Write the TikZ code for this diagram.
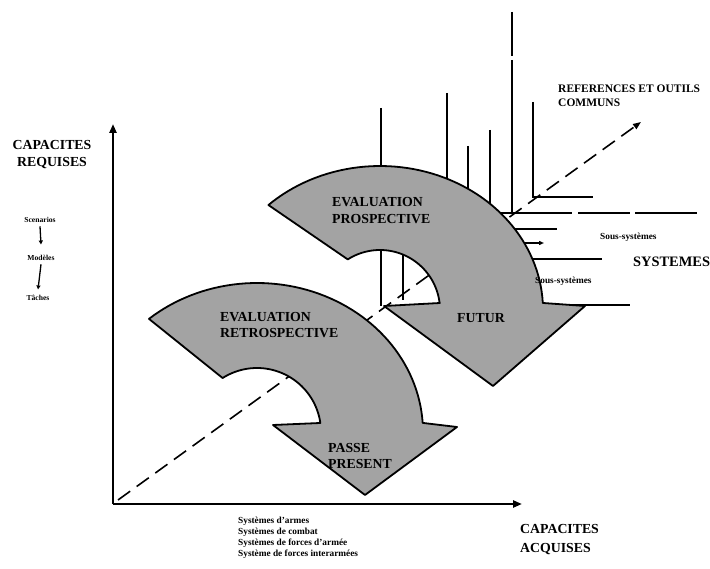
\documentclass[tikz,border=0pt]{standalone}
\usepackage{fontspec}
\setmainfont{Liberation Serif}
\usetikzlibrary{arrows.meta}
\begin{document}
\begin{tikzpicture}[x=1pt,y=-1pt,
  axisline/.style={line width=2.4pt},
  barline/.style={line width=2.3pt},
  sysline/.style={line width=2pt},
  diagline/.style={line width=1.6pt, dash pattern=on 15pt off 8pt},
  band/.style={draw=black, line width=1.8pt, fill=black!36, line join=round},
  biglabel/.style={font=\bfseries\fontsize{13.8}{16}\selectfont, inner sep=0pt, anchor=base west},
  midlabel/.style={font=\bfseries\fontsize{11.5}{14}\selectfont, inner sep=0pt, anchor=base west},
  smalllabel/.style={font=\bfseries\fontsize{9.3}{11}\selectfont, inner sep=0pt, anchor=base west},
  tinylabel/.style={font=\bfseries\fontsize{7.6}{9}\selectfont, inner sep=0pt, anchor=base},
  steparrow/.style={line width=1.3pt, -{Triangle[length=4pt,width=4pt]}},
]
\useasboundingbox (0,0) rectangle (710,569);

% ---- background: reference bars, system lines and the dashed diagonal ----
\draw[barline] (381,108) -- (381,306);
\draw[barline] (447,93) -- (447,200);
\draw[barline] (468,146) -- (468,200);
\draw[barline] (490,130) -- (490,220);
\draw[barline] (512,12) -- (512,56);
\draw[barline] (512,60) -- (512,213);
\draw[barline] (533,102) -- (533,197) -- (593,197);
\draw[barline] (403,220) -- (403,300);

\draw[sysline] (495,213) -- (572,213);
\draw[sysline] (578,213) -- (630,213);
\draw[sysline] (635,213) -- (697,213);
\draw[sysline] (505,229) -- (557,229);
\draw[sysline, -{Triangle[length=5pt,width=4pt]}] (515,243) -- (544,243);
\draw[sysline] (525,259) -- (602,259);
\draw[sysline] (540,305) -- (630,305);

\coordinate (dstart) at (118,500);
\coordinate (dend) at (641,122);
\draw[diagline, -{Triangle[length=8pt,width=6pt]}] (dstart) -- (dend);

% ---- axes ----
\coordinate (O) at (113,504);
\coordinate (ytop) at (113,124);
\coordinate (xend) at (522,504);
\draw[axisline, -{Triangle[length=9pt,width=7pt]}] (O) -- (ytop);
\draw[axisline, -{Triangle[length=9pt,width=7pt]}] (O) -- (xend);

% ---- prospective band (upper curved arrow) ----
\draw[band] plot[domain=226.8:357.2, samples=60] ({380+163*cos(\x)},{310+144*sin(\x)})
  -- (585,306) -- (493,386) -- (384,306) -- (440,303)
  -- plot[domain=353.3:237.5, samples=40] ({380+60*cos(\x)},{310+60*sin(\x)}) -- cycle;

% ---- retrospective band (lower curved arrow) ----
\draw[band] plot[domain=229.4:356.5, samples=60] ({257+166*cos(\x)},{432+149*sin(\x)})
  -- (457,427) -- (365,495) -- (273,425) -- (320,423)
  -- plot[domain=351.9:237.5, samples=40] ({257+64*cos(\x)},{432+64*sin(\x)}) -- cycle;

% ---- labels inside the bands ----
\node[biglabel] (evp1) at (332,207) {EVALUATION};
\node[biglabel] (evp2) at (332,224) {PROSPECTIVE};
\node[biglabel] (evr1) at (220,322) {EVALUATION};
\node[biglabel] (evr2) at (220,338) {RETROSPECTIVE};
\node[biglabel] (futur) at (457,323) {FUTUR};
\node[biglabel] (passe) at (328,453) {PASSE};
\node[biglabel] (present) at (328,468) {PRESENT};

% ---- axis titles ----
\node[biglabel, anchor=base] (req1) at (52,150) {CAPACITES};
\node[biglabel, anchor=base] (req2) at (52,167) {REQUISES};
\node[biglabel] (acq1) at (520,533) {CAPACITES};
\node[biglabel] (acq2) at (520,552) {ACQUISES};
\node[biglabel, font=\bfseries\fontsize{14.4}{16}\selectfont] (sys) at (633,267) {SYSTEMES};
\node[midlabel] (ref1) at (558,93) {REFERENCES ET OUTILS};
\node[midlabel] (ref2) at (558,107) {COMMUNS};

% ---- small labels ----
\node[smalllabel] (ss1) at (600,240) {Sous-systèmes};
\node[smalllabel] (ss2) at (535,284) {Sous-systèmes};

\node[tinylabel] (scen) at (40,223) {Scenarios};
\node[tinylabel] (mod) at (41,261) {Modèles};
\node[tinylabel] (tach) at (38,301) {Tâches};
\draw[steparrow] ([yshift=-3pt]scen.south) -- ([yshift=11pt]mod.north);
\draw[steparrow] ([yshift=-3pt]mod.south) -- ([yshift=6pt]tach.north);

\node[smalllabel] (sa) at (238,523) {Systèmes d'armes};
\node[smalllabel] (sc) at (238,534) {Systèmes de combat};
\node[smalllabel] (sf) at (238,545) {Systèmes de forces d'armée};
\node[smalllabel] (si) at (238,556) {Système de forces interarmées};
\end{tikzpicture}
\end{document}
